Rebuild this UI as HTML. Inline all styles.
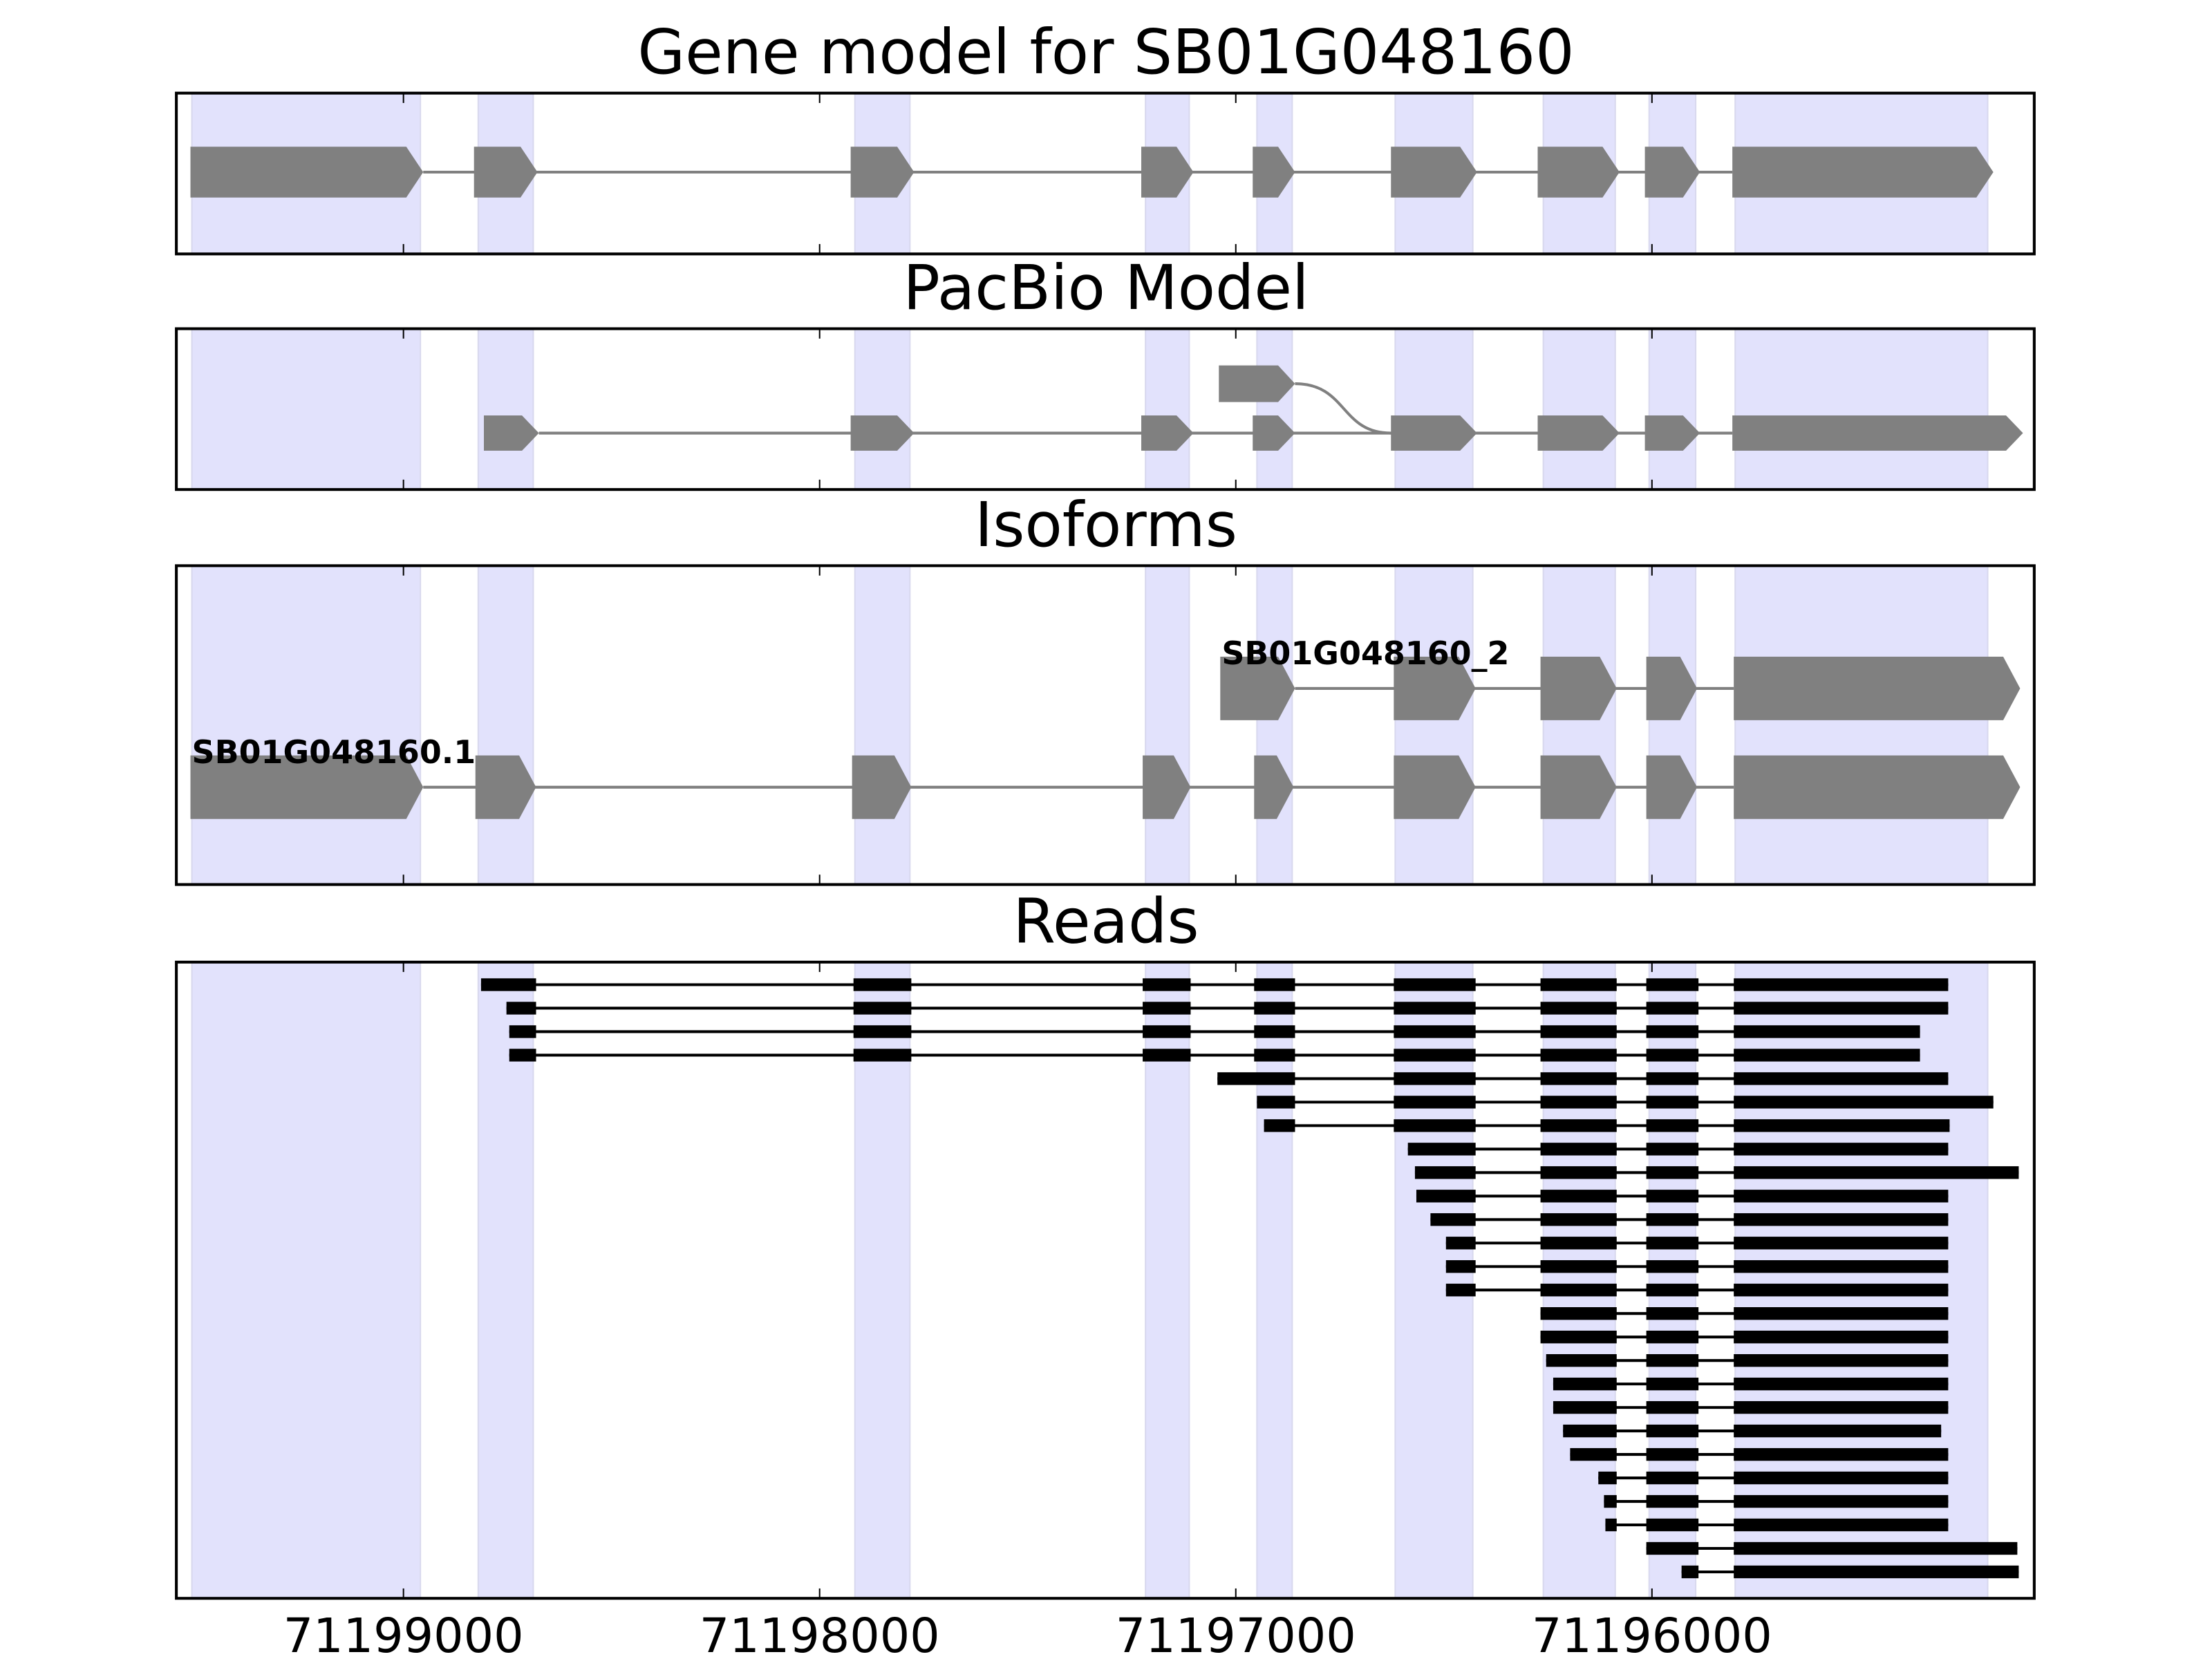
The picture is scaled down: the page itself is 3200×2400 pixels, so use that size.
<!DOCTYPE html>
<html><head><meta charset="utf-8"><style>html,body{margin:0;padding:0;background:#fff}svg{display:block}</style></head>
<body>
<svg id="s" xmlns="http://www.w3.org/2000/svg" width="3200" height="2400" viewBox="0 0 1568 1176" font-family="'DejaVu Sans','Liberation Sans',sans-serif"></svg>
<script>
const s=document.getElementById('s');let h='';
const L=125,R=1442;
const panels=[[66,180,'Gene model for SB01G048160',52],[233,347,'PacBio Model',219],[401,627,'Isoforms',387],[682,1133,'Reads',668]];
const shade=[[136,298],[339,378],[606,645],[812,843],[891,916],[989,1044],[1094,1145],[1169,1202],[1230,1409]];
const ticks=[[286,'71199000'],[581,'71198000'],[876,'71197000'],[1171,'71196000']];
function exon(x1,x2,cy,hh){const t=Math.min(12,(x2-x1)*0.45);return `<polygon points="${x1},${cy-hh} ${x2-t},${cy-hh} ${x2},${cy} ${x2-t},${cy+hh} ${x1},${cy+hh}" fill="#808080"/>`;}
function model(ex,cy,hh){let o=`<line x1="${ex[0][1]}" y1="${cy}" x2="${ex[ex.length-1][0]}" y2="${cy}" stroke="#808080" stroke-width="2"/>`;ex.forEach(e=>o+=exon(e[0],e[1],cy,hh));return o;}
for(const [t,b,title,ty] of panels){
 for(const [a,c] of shade) h+=`<rect x="${a}" y="${t}" width="${c-a}" height="${b-t}" fill="#e2e2fc" stroke="#d8d8ee" stroke-width="1"/>`;
 h+=`<text x="784" y="${ty}" font-size="43.5" text-anchor="middle">${title}</text>`;
}
const T=[66,233,401,682],B=[180,347,627,1133];
h+=model([[135,300],[336,381],[603,648],[809,846],[888,918],[986,1047],[1090,1148],[1166,1205],[1228,1413]],122,18);
h+=model([[343,382],[603,648],[809,846],[888,918],[986,1047],[1090,1148],[1166,1205],[1228,1434]],307,12.5);
h+=`<path d="M918,272 C955,272 950,307 986,307" fill="none" stroke="#808080" stroke-width="2"/>`;
h+=exon(864,918,272,13);
h+=model([[865,918],[988,1046],[1092,1146],[1167,1203],[1229,1432]],488,22.5);
h+=model([[135,300],[337,380],[604,646],[810,844],[889,917],[988,1046],[1092,1146],[1167,1203],[1229,1432]],558,22.5);
h+=`<text x="866" y="471" font-size="22.5" font-weight="bold">SB01G048160_2</text>`;
h+=`<text x="136" y="541" font-size="22.5" font-weight="bold">SB01G048160.1</text>`;
const reads=[[341,380,1381],[359,380,1381],[361,380,1361],[361,380,1361],[863,918,1381],[891,918,1413],[896,918,1382],[998,1046,1381],[1003,1046,1431],[1004,1046,1381],[1014,1046,1381],[1025,1046,1381],[1025,1046,1381],[1025,1046,1381],[1092,1146,1381],[1092,1146,1381],[1096,1146,1381],[1101,1146,1381],[1101,1146,1381],[1108,1146,1376],[1113,1146,1381],[1133,1146,1381],[1137,1146,1381],[1138,1146,1381],[1167,1204,1430],[1192,1204,1431]];
const full=[[605,646],[810,844],[889,918],[988,1046],[1092,1146],[1167,1204]];
reads.forEach((r,i)=>{const y=698+i*16.65;const[s0,e0,end]=r;
 let bl=[[s0,e0]];full.forEach(f=>{if(f[0]>e0)bl.push(f);});bl.push([1229,end]);
 h+=`<line x1="${s0}" y1="${y}" x2="${end}" y2="${y}" stroke="#000" stroke-width="2"/>`;
 bl.forEach(b=>h+=`<rect x="${b[0]}" y="${y-4.5}" width="${b[1]-b[0]}" height="9" fill="#000"/>`);
});
for(let i=0;i<4;i++){
 h+=`<rect x="${L}" y="${T[i]}" width="${R-L}" height="${B[i]-T[i]}" fill="none" stroke="#000" stroke-width="2"/>`;
 for(const [x] of ticks){h+=`<line x1="${x}" y1="${T[i]}" x2="${x}" y2="${T[i]+7}" stroke="#000" stroke-width="1"/><line x1="${x}" y1="${B[i]}" x2="${x}" y2="${B[i]-7}" stroke="#000" stroke-width="1"/>`;}
}
for(const [x,l] of ticks) h+=`<text x="${x}" y="1171" font-size="33.5" text-anchor="middle">${l}</text>`;
s.innerHTML=h;
</script>
</body></html>
